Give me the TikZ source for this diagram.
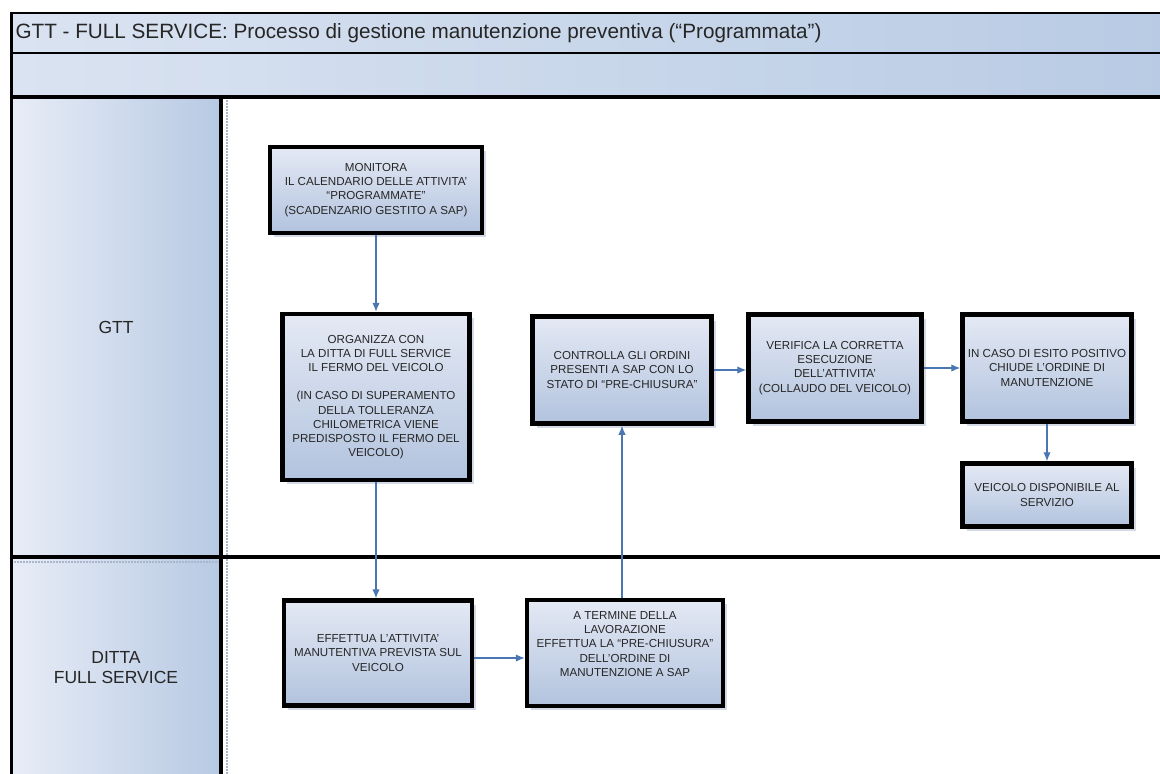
\documentclass[tikz,border=0pt]{standalone}
\usepackage{fontspec}
\setmainfont{Liberation Sans}
\usetikzlibrary{arrows.meta,positioning,shadows}

\definecolor{barlight}{RGB}{218,227,241}
\definecolor{bardark}{RGB}{184,203,228}
\definecolor{lanelight}{RGB}{232,237,247}
\definecolor{lanedark}{RGB}{183,201,227}
\definecolor{boxlight}{RGB}{228,233,244}
\definecolor{boxdark}{RGB}{178,195,222}
\definecolor{flowblue}{RGB}{74,118,180}
\definecolor{inkgray}{RGB}{38,38,38}
\definecolor{dotgray}{RGB}{170,182,204}

\begin{document}
\begin{tikzpicture}[x=1pt, y=-1pt, > = {Latex[length=9pt,width=7.5pt]}]
    \tikzset{
      act/.style={draw=black, line width=4.5pt, top color=boxlight, bottom color=boxdark,
        align=center, text=inkgray, inner sep=2pt,
        font=\fontsize{11.6}{14.2}\selectfont,
        drop shadow={shadow xshift=4pt, shadow yshift=-4pt, fill=dotgray, opacity=.5}},
      flow/.style={->, draw=flowblue, line width=1.3pt},
      lanename/.style={align=center, text=inkgray, font=\fontsize{17.5}{20}\selectfont},
      bar/.style={left color=barlight, right color=bardark, draw=black, line width=1.5pt},
    }
    \useasboundingbox (0,0) rectangle (1160,774);
    \clip (0,0) rectangle (1160,774);
    \fill[white] (0,0) rectangle (1160,774);

    % pool frame
    \path[bar] (11,13) rectangle (1175,53);
    \path[bar] (11,53) rectangle (1175,97);
    \fill[left color=lanelight, right color=lanedark] (11,97) rectangle (221,557);
    \fill[left color=lanelight, right color=lanedark] (11,557) rectangle (221,790);
    \draw[dotgray, densely dotted, line width=2pt] (227,100) -- (227,790);
    \draw[dotgray, densely dotted, line width=2pt] (14,562) -- (219,562);
    \draw[line width=4pt] (11,97) -- (1175,97);
    \draw[line width=3.5pt] (11,557) -- (1175,557);
    \draw[line width=4pt] (221,97) -- (221,790);
    \draw[line width=3pt] (11,13) -- (11,790);

    \node[anchor=west, text=inkgray, font=\fontsize{20.7}{24}\selectfont] (title) at (12,33)
      {GTT - FULL SERVICE: Processo di gestione manutenzione preventiva (“Programmata”)};
    \node[lanename] (gtt) at (116,327) {GTT};
    \node[lanename] (ditta) at (116,668) {DITTA\\FULL SERVICE};

    % GTT lane
    \node[act, minimum width=212pt, minimum height=86pt] (monitora) at (376,190)
      {MONITORA\\IL CALENDARIO DELLE ATTIVITA'\\“PROGRAMMATE”\\(SCADENZARIO GESTITO A SAP)};
    \node[act, minimum width=187pt, minimum height=166pt] (organizza) at (376,397)
      {ORGANIZZA CON\\LA DITTA DI FULL SERVICE\\IL FERMO DEL VEICOLO\\[14.2pt](IN CASO DI SUPERAMENTO\\DELLA TOLLERANZA\\CHILOMETRICA VIENE\\PREDISPOSTO IL FERMO DEL\\VEICOLO)};
    \node[act, minimum width=179pt, minimum height=107pt] (controlla) at (622,370)
      {CONTROLLA GLI ORDINI\\PRESENTI A SAP CON LO\\STATO DI “PRE-CHIUSURA”};
    \node[act, minimum width=173pt, minimum height=107pt] (verifica) at (835,368)
      {VERIFICA LA CORRETTA\\ESECUZIONE\\DELL'ATTIVITA'\\(COLLAUDO DEL VEICOLO)};
    \node[act, minimum width=169pt, minimum height=107pt] (chiude) at (1047,368)
      {IN CASO DI ESITO POSITIVO\\CHIUDE L'ORDINE DI\\MANUTENZIONE};
    \node[act, minimum width=169pt, minimum height=63pt] (disponibile) at (1047,495)
      {VEICOLO DISPONIBILE AL\\SERVIZIO};

    % DITTA lane
    \node[act, minimum width=188pt, minimum height=105pt] (effettua) at (378,653)
      {EFFETTUA L'ATTIVITA'\\MANUTENTIVA PREVISTA SUL\\VEICOLO};
    \node[act, minimum width=196pt, minimum height=106pt] (termine) at (625,653)
      {A TERMINE DELLA\\LAVORAZIONE\\EFFETTUA LA “PRE-CHIUSURA”\\DELL'ORDINE DI\\MANUTENZIONE A SAP\\[4pt]};

    \draw[flow] (monitora) -- (organizza);
    \draw[flow] (organizza.south) -- (organizza.south |- effettua.north);
    \draw[flow] ([yshift=-5pt]effettua.east) -- ([yshift=-5pt]termine.west);
    \draw[flow] (termine.north -| controlla.south) -- (controlla.south);
    \draw[flow] (controlla) -- (controlla -| verifica.west);
    \draw[flow] (verifica) -- (verifica -| chiude.west);
    \draw[flow] (chiude) -- (disponibile);

\end{tikzpicture}
\end{document}
